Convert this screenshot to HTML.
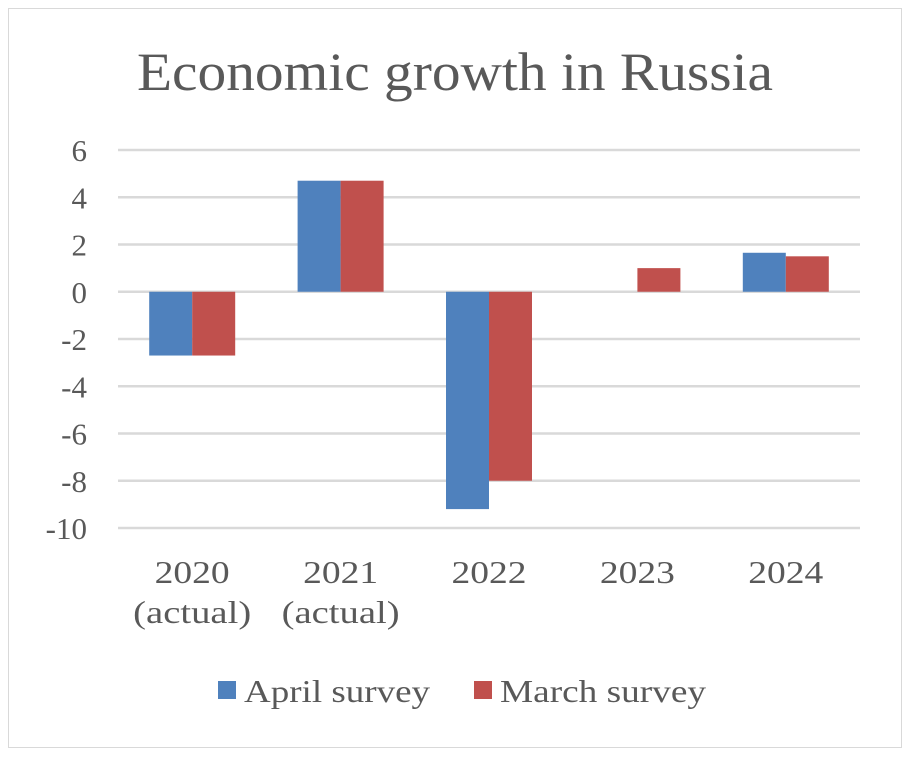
<!DOCTYPE html>
<html><head><meta charset="utf-8"><style>
body{margin:0;background:#fff}
svg text{font-family:"Liberation Serif",serif;fill:#595959}
</style></head><body>
<svg width="910" height="756">
<rect x="8.5" y="8.5" width="893" height="739" fill="#fff" stroke="#d9d9d9"/>
<text x="137" y="90" font-size="54" textLength="636" lengthAdjust="spacingAndGlyphs">Economic growth in Russia</text>
<g id="grid"></g><g id="bars"></g><g id="labels"></g>
<g>
<rect x="218" y="681" width="18" height="18" fill="#4f81bd"/>
<text x="244" y="702" font-size="32" textLength="186" lengthAdjust="spacingAndGlyphs">April survey</text>
<rect x="474" y="681" width="18" height="18" fill="#c0504d"/>
<text x="500" y="702" font-size="32" textLength="206" lengthAdjust="spacingAndGlyphs">March survey</text>
</g>
</svg>
<script>
const categories=[["2020","(actual)"],["2021","(actual)"],["2022"],["2023"],["2024"]];
const aprilValues=[-2.7,4.7,-9.2,null,1.65];
const marchValues=[-2.7,4.7,-8.0,1.0,1.5];
const yTicks=[6,4,2,0,-2,-4,-6,-8,-10];
const NS="http://www.w3.org/2000/svg";
const x0=118,x1=860,yTop=150,yBot=528,vMax=6,vMin=-10;
const y=v=>yTop+(vMax-v)/(vMax-vMin)*(yBot-yTop);
const band=(x1-x0)/categories.length;
const cx=i=>x0+band*(i+0.5);
const bw=43;
function mk(t,a){const e=document.createElementNS(NS,t);for(const k in a)e.setAttribute(k,a[k]);return e;}
const grid=document.getElementById('grid'),bars=document.getElementById('bars'),labels=document.getElementById('labels');
yTicks.forEach(v=>{
 const l=mk('line',{x1:x0,x2:x1,y1:y(v),y2:y(v),stroke:'#d9d9d9','stroke-width':2.5});
 
 
 grid.appendChild(l);
 const t=mk('text',{x:87,y:y(v)+11,'font-size':31,'text-anchor':'end'});
 
 
 t.textContent=v;labels.appendChild(t);
});
function drawBar(v,i,off,color,name){
 if(v==null)return;
 const ya=y(Math.max(v,0)),yb=y(Math.min(v,0));
 const r=mk('rect',{x:cx(i)+off,y:ya,width:bw,height:yb-ya,fill:color});
 
 
 bars.appendChild(r);
}
categories.forEach((c,i)=>{
 drawBar(aprilValues[i],i,-bw,'#4f81bd','bar-april-'+c[0]);
 drawBar(marchValues[i],i,0,'#c0504d','bar-march-'+c[0]);
 c.forEach((s,j)=>{
  const w=s.length>4?118:75;
  const t=mk('text',{x:cx(i)-w/2,y:583+j*40,'font-size':32,textLength:w,lengthAdjust:'spacingAndGlyphs'});
  
  
  t.textContent=s;labels.appendChild(t);
 });
});
</script>
</body></html>
